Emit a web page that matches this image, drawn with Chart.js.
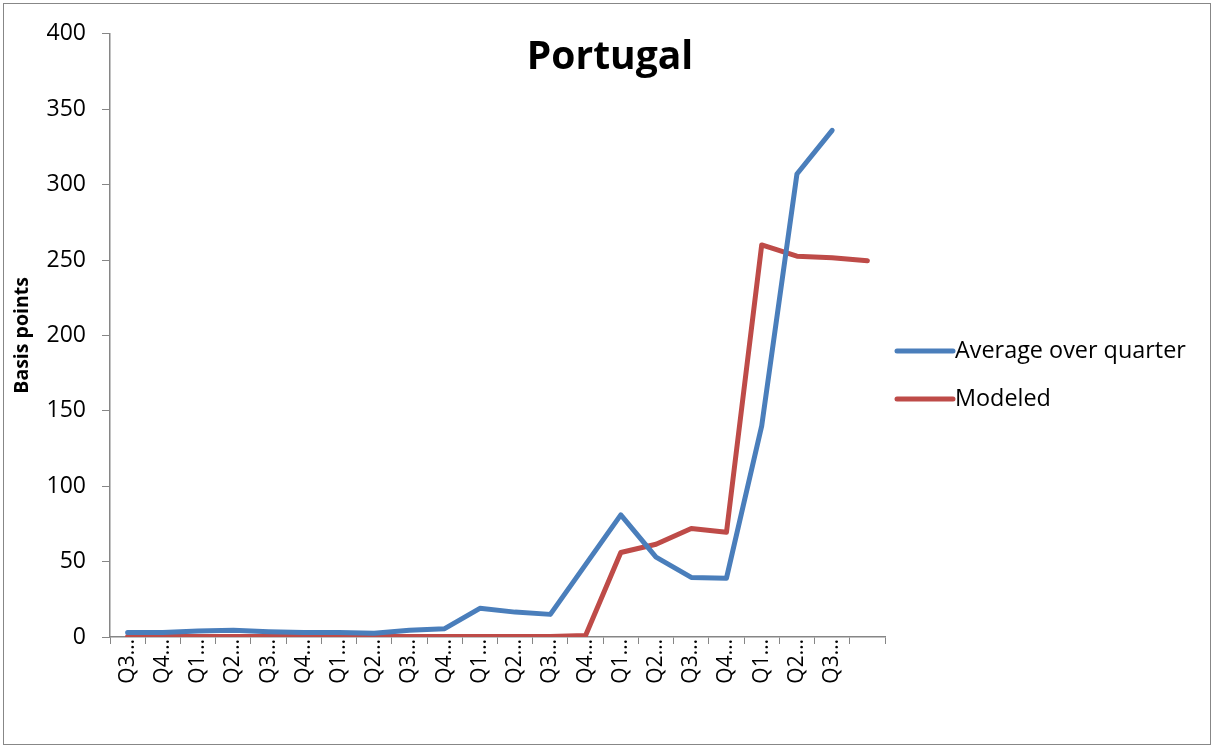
<!DOCTYPE html>
<html>
<head>
<meta charset="utf-8">
<script src="https://cdn.jsdelivr.net/npm/chart.js@4"></script>
<style>
  body { margin: 0; background: #fff; }
  #frame {
    position: absolute; left: 3px; top: 3px;
    width: 1206px; height: 740px;
    border: 1px solid #878787;
  }
</style>
</head>
<body>
<div id="frame"><canvas id="portugal-chart" width="1206" height="740"></canvas></div>
<script>
// quarters (labels are truncated in the original, last one is blank)
const quarterLabels = ['Q3…', 'Q4…', 'Q1…', 'Q2…', 'Q3…', 'Q4…', 'Q1…', 'Q2…', 'Q3…', 'Q4…', 'Q1…',
  'Q2…', 'Q3…', 'Q4…', 'Q1…', 'Q2…', 'Q3…', 'Q4…', 'Q1…', 'Q2…', 'Q3…', ''];
const averageOverQuarter = [3, 3, 4, 4.5, 3.5, 3, 3, 2.5, 4.5, 5.5, 19, 16.5, 15, 48, 81, 53, 39.5, 39, 140, 307, 336, null];
const modeled = [0.3, 0.3, 0.3, 0.3, 0.3, 0.3, 0.3, 0.3, 0.3, 0.3, 0.3, 0.3, 0.3, 1, 56, 61.5, 72, 69.5, 260, 252.5, 251.5, 249.5];
const yTicks = [0, 50, 100, 150, 200, 250, 300, 350, 400];

const FONT = "'Open Sans', 'Liberation Sans', sans-serif";
const AXIS_GREY = '#868686';

// title sits on top of the plot area, like in Excel, so draw it by hand
const titlePlugin = {
  id: 'overlayTitle',
  afterDraw(chart) {
    const ctx = chart.ctx;
    ctx.save();
    ctx.font = 'bold 39px ' + FONT;
    ctx.fillStyle = '#000';
    ctx.textAlign = 'center';
    ctx.textBaseline = 'alphabetic';
    ctx.fillText('Portugal', chart.width / 2 + 3, 65);
    ctx.restore();
  }
};

// legend on the right, line swatches
const sideLegend = {
  id: 'sideLegend',
  afterDraw(chart) {
    const ctx = chart.ctx;
    const x0 = 891;
    let y = 347;
    ctx.save();
    chart.data.datasets.forEach((ds) => {
      ctx.strokeStyle = ds.borderColor;
      ctx.lineWidth = 5;
      ctx.lineCap = 'round';
      ctx.beginPath();
      ctx.moveTo(x0 + 2, y);
      ctx.lineTo(x0 + 58, y);
      ctx.stroke();
      ctx.fillStyle = '#000';
      ctx.font = '23.4px ' + FONT;
      ctx.textAlign = 'left';
      ctx.textBaseline = 'middle';
      ctx.fillText(ds.label, x0 + 60, y);
      y += 48;
    });
    ctx.restore();
  }
};

const ctx = document.getElementById('portugal-chart').getContext('2d');
new Chart(ctx, {
  type: 'line',
  data: {
    labels: quarterLabels,
    datasets: [
      {
        label: 'Average over quarter',
        data: averageOverQuarter,
        borderColor: '#4A7EBB',
        borderWidth: 5,
        pointRadius: 0,
        borderJoinStyle: 'round',
        borderCapStyle: 'round',
        fill: false,
      },
      {
        label: 'Modeled',
        data: modeled,
        borderColor: '#BE4B48',
        borderWidth: 5,
        pointRadius: 0,
        borderJoinStyle: 'round',
        borderCapStyle: 'round',
        fill: false,
      },
    ],
  },
  options: {
    responsive: false,
    animation: false,
    layout: { padding: { left: 0, top: 26, right: 325, bottom: 0 } },
    plugins: {
      legend: { display: false },
      title: { display: false },
      tooltip: { enabled: false },
    },
    scales: {
      x: {
        offset: true,
        grid: {
          offset: true,
          drawOnChartArea: false,
          drawTicks: true,
          tickLength: 7,
          color: AXIS_GREY,
        },
        border: { color: AXIS_GREY, width: 1.5 },
        ticks: {
          autoSkip: false,
          maxRotation: 90,
          minRotation: 90,
          padding: -5,
          color: '#000',
          font: { family: FONT, size: 21 },
        },
        afterFit(scale) { scale.height = 107; },
      },
      y: {
        min: 0,
        max: 400,
        afterBuildTicks(scale) { scale.ticks = yTicks.map((v) => ({ value: v })); },
        grid: {
          drawOnChartArea: false,
          drawTicks: true,
          tickLength: 8,
          color: AXIS_GREY,
        },
        border: { color: AXIS_GREY, width: 1.5 },
        ticks: {
          padding: 16,
          color: '#000',
          font: { family: FONT, size: 23 },
        },
        title: {
          display: true,
          text: 'Basis points',
          color: '#000',
          font: { family: FONT, size: 19.5, weight: 'bold' },
          padding: { top: 7, bottom: 0 },
        },
        afterFit(scale) { scale.width = 106; },
      },
    },
  },
  plugins: [titlePlugin, sideLegend],
});
</script>
</body>
</html>
